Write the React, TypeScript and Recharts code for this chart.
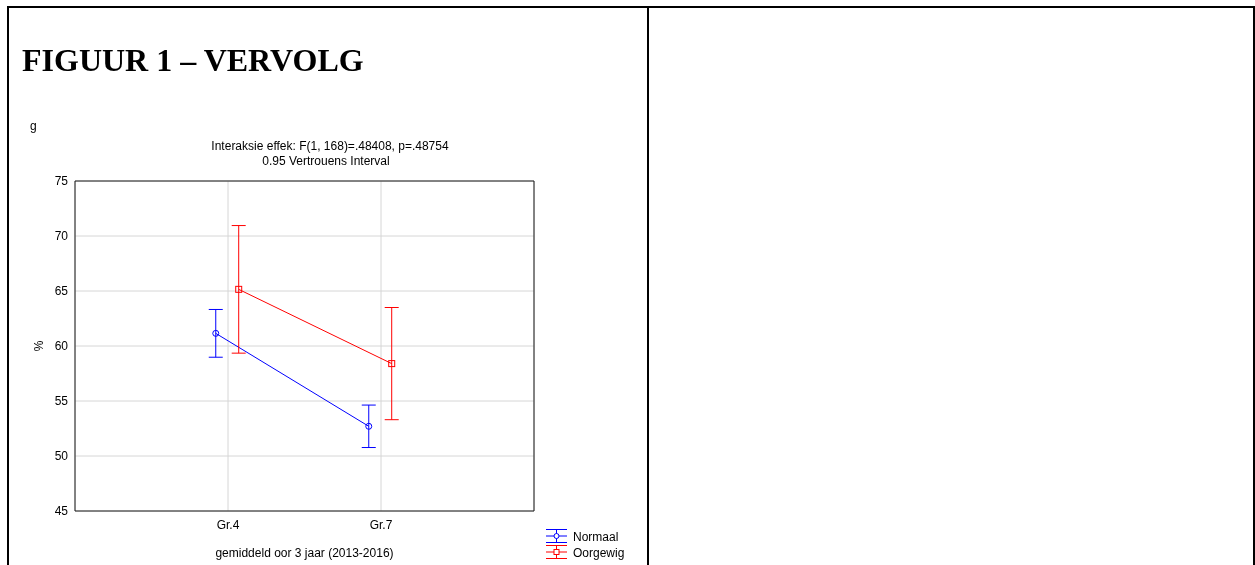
import {
  CartesianGrid,
  ComposedChart,
  ErrorBar,
  Line,
  ReferenceArea,
  XAxis,
  YAxis,
} from 'recharts'

const categories = ['Gr.4', 'Gr.7']
const normaalMean = [61.15, 52.7]
const normaalCI = [2.17, 1.93]
const oorgewigMean = [65.15, 58.4]
const oorgewigCI = [5.8, 5.1]
const yTicks = [45, 50, 55, 60, 65, 70, 75]
const xTicks = [1, 2]

const COLORS = {
  normaal: '#0000ff',
  oorgewig: '#ff0000',
  grid: '#d6d6d6',
  frame: '#1a1a1a',
} as const

const SANS = '"Liberation Sans", Arial, Helvetica, sans-serif'
const SERIF = '"Liberation Serif", "Times New Roman", Times, serif'

/* the two groups are nudged sideways so their CI bars don't overlap */
const SHIFT = { normaal: -0.08, oorgewig: 0.07 }

const toPoints = (means: number[], ci: number[], shift: number) =>
  categories.map((_, i) => ({ x: i + 1 + shift, y: means[i], err: ci[i] }))

const normaalData = toPoints(normaalMean, normaalCI, SHIFT.normaal)
const oorgewigData = toPoints(oorgewigMean, oorgewigCI, SHIFT.oorgewig)

const tickStyle = { fill: '#000', fontSize: 12, fontFamily: SANS }
const tickLine = { stroke: COLORS.frame }

function LegendIcon({ y, color, square }: { y: number; color: string; square?: boolean }) {
  return (
    <g stroke={color} fill="none" strokeWidth={1}>
      <line x1={546} x2={567} y1={y - 6.5} y2={y - 6.5} />
      <line x1={546} x2={567} y1={y} y2={y} />
      <line x1={546} x2={567} y1={y + 6.5} y2={y + 6.5} />
      <line x1={556.5} x2={556.5} y1={y - 6.5} y2={y + 6.5} />
      {square ? (
        <rect x={554} y={y - 2.5} width={5} height={5} fill="#fff" />
      ) : (
        <circle cx={556.5} cy={y} r={2.5} fill="#fff" />
      )}
    </g>
  )
}

function Page() {
  return (
    <svg
      width={1255}
      height={565}
      style={{ position: 'absolute', left: 0, top: 0 }}
    >
      {/* table cell borders */}
      <rect x={8} y={7} width={1246} height={600} fill="none" stroke="#000" strokeWidth={2} />
      <line x1={648} x2={648} y1={7} y2={565} stroke="#000" strokeWidth={2} />

      <text x={22} y={71} fontFamily={SERIF} fontWeight="bold" fontSize={32}>
        FIGUUR 1 – VERVOLG
      </text>
      <text x={30} y={130} fontFamily={SANS} fontSize={12}>
        g
      </text>
      <text x={330} y={150} fontFamily={SANS} fontSize={12} textAnchor="middle">
        Interaksie effek: F(1, 168)=.48408, p=.48754
      </text>
      <text x={326} y={165} fontFamily={SANS} fontSize={12} textAnchor="middle">
        0.95 Vertrouens Interval
      </text>
      <text
        x={0}
        y={0}
        fontFamily={SANS}
        fontSize={12}
        textAnchor="middle"
        transform="translate(43 346) rotate(-90)"
      >
        %
      </text>
      <text x={304.5} y={557} fontFamily={SANS} fontSize={12} textAnchor="middle">
        gemiddeld oor 3 jaar (2013-2016)
      </text>

      {/* legend */}
      <LegendIcon y={536} color={COLORS.normaal} />
      <text x={573} y={540.5} fontFamily={SANS} fontSize={12}>
        Normaal
      </text>
      <LegendIcon y={552} color={COLORS.oorgewig} square />
      <text x={573} y={556.5} fontFamily={SANS} fontSize={12}>
        Oorgewig
      </text>
    </svg>
  )
}

export default function App() {
  return (
    <div style={{ position: 'fixed', left: 0, top: 0, width: 1255, height: 565 }}>
      <Page />
      <div style={{ position: 'absolute', left: 0, top: 0 }}>
        <ComposedChart
          width={660}
          height={565}
          margin={{ top: 181, right: 126, bottom: 24, left: 35 }}
        >
          <CartesianGrid stroke={COLORS.grid} />
          <XAxis
            type="number"
            dataKey="x"
            domain={[0, 3]}
            ticks={xTicks}
            tickFormatter={(v: number) => categories[v - 1] ?? ''}
            allowDataOverflow
            height={30}
            axisLine={false}
            tickLine={false}
            tickSize={0}
            tickMargin={9}
            tick={tickStyle}
          />
          <YAxis
            type="number"
            domain={[45, 75]}
            ticks={yTicks}
            allowDataOverflow
            width={40}
            axisLine={false}
            tickLine={false}
            tickSize={0}
            tickMargin={7}
            tick={tickStyle}
          />
          {/* mirrored copies only carry the short inward tick marks of the frame */}
          <XAxis
            xAxisId="bottomTicks"
            type="number"
            domain={[0, 3]}
            ticks={xTicks}
            allowDataOverflow
            mirror
            height={0}
            axisLine={false}
            tickSize={3}
            tickLine={tickLine}
            tick={false}
          />
          <XAxis
            xAxisId="topTicks"
            orientation="top"
            type="number"
            domain={[0, 3]}
            ticks={xTicks}
            allowDataOverflow
            mirror
            height={0}
            axisLine={false}
            tickSize={3}
            tickLine={tickLine}
            tick={false}
          />
          <YAxis
            yAxisId="leftTicks"
            type="number"
            domain={[45, 75]}
            ticks={yTicks}
            allowDataOverflow
            mirror
            width={0}
            axisLine={false}
            tickSize={3}
            tickLine={tickLine}
            tick={false}
          />
          <YAxis
            yAxisId="rightTicks"
            orientation="right"
            type="number"
            domain={[45, 75]}
            ticks={yTicks}
            allowDataOverflow
            mirror
            width={0}
            axisLine={false}
            tickSize={3}
            tickLine={tickLine}
            tick={false}
          />
          <ReferenceArea
            x1={0}
            x2={3}
            y1={45}
            y2={75}
            fill="none"
            fillOpacity={0}
            stroke={COLORS.frame}
            strokeWidth={1}
          />
          <Line
            data={normaalData}
            dataKey="y"
            stroke={COLORS.normaal}
            strokeWidth={1}
            isAnimationActive={false}
            dot={(p: any) => (
              <circle
                key={`n-${p.index}`}
                cx={p.cx}
                cy={p.cy}
                r={3}
                fill="none"
                stroke={COLORS.normaal}
              />
            )}
          >
            <ErrorBar
              dataKey="err"
              direction="y"
              width={7}
              stroke={COLORS.normaal}
              strokeWidth={1}
              isAnimationActive={false}
            />
          </Line>
          <Line
            data={oorgewigData}
            dataKey="y"
            stroke={COLORS.oorgewig}
            strokeWidth={1}
            isAnimationActive={false}
            dot={(p: any) => (
              <rect
                key={`o-${p.index}`}
                x={p.cx - 3}
                y={p.cy - 3}
                width={6}
                height={6}
                fill="none"
                stroke={COLORS.oorgewig}
              />
            )}
          >
            <ErrorBar
              dataKey="err"
              direction="y"
              width={7}
              stroke={COLORS.oorgewig}
              strokeWidth={1}
              isAnimationActive={false}
            />
          </Line>
        </ComposedChart>
      </div>
    </div>
  )
}
